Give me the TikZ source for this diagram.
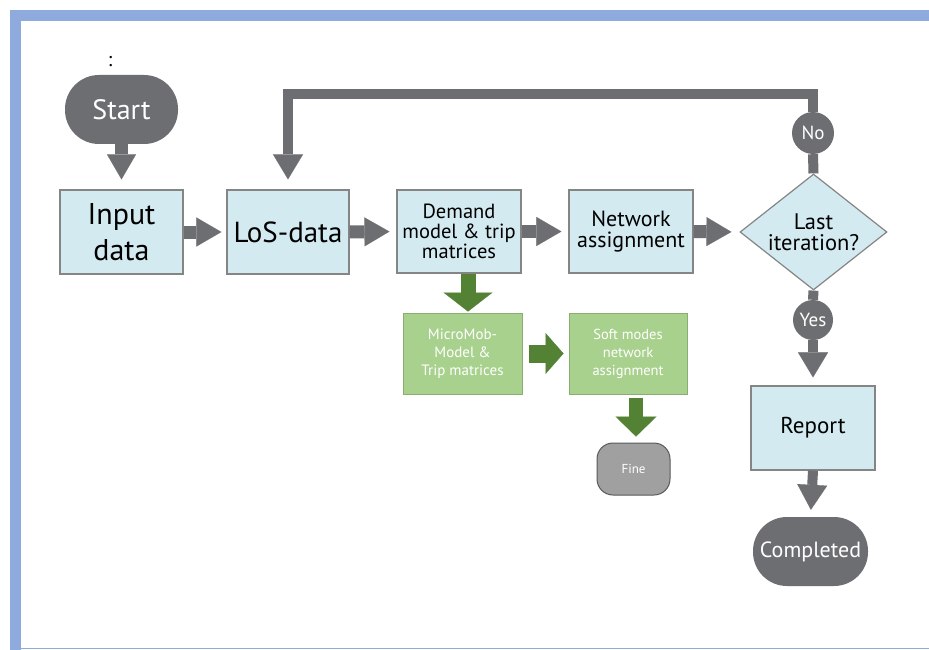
\documentclass[tikz,border=0pt]{standalone}
\usepackage{fontspec}
\setmainfont{PT Sans}
\usetikzlibrary{arrows.meta,shapes.geometric}
\definecolor{bluebar}{HTML}{8FAADC}
\definecolor{boxblue}{HTML}{D2EAF0}
\definecolor{boxborder}{HTML}{858585}
\definecolor{arrowgray}{HTML}{6D6E71}
\definecolor{greenfill}{HTML}{A9D18E}
\definecolor{greenborder}{HTML}{8AAE72}
\definecolor{greenarrow}{HTML}{548235}
\definecolor{finegray}{HTML}{A0A0A0}
\newcommand{\fss}[2]{\fontsize{#1}{#2}\selectfont}
\begin{document}
\begin{tikzpicture}[x=1pt,y=-1pt,
  bluebox/.style={draw=boxborder, line width=1.2pt, fill=boxblue, inner sep=0pt, align=center, text=black},
  greenbox/.style={draw=greenborder, line width=1pt, fill=greenfill, inner sep=0pt, align=center, text=white},
  terminal/.style={fill=arrowgray, text=white, inner sep=0pt, align=center},
  badge/.style={circle, fill=arrowgray, text=white, inner sep=0pt},
  grayarrow/.style={draw=arrowgray, line width=13pt, -{Triangle[length=25pt,width=29pt,line width=0.1pt]}},
  thinarrow/.style={draw=arrowgray, line width=10pt, -{Triangle[length=25pt,width=30pt,line width=0.1pt]}},
  greenarr/.style={draw=greenarrow, line width=15pt},
]
\useasboundingbox (0,0) rectangle (929,650);
\fill[white] (0,0) rectangle (929,650);
\fill[bluebar] (10,10) rectangle (929,21);
\fill[bluebar] (10,10) rectangle (21,650);
\draw[bluebar, line width=1.5pt] (21,648.5) -- (929,648.5);

% nodes
\node[font=\fss{20}{20}] (colon) at (110,62) {:};
\node[terminal, rounded corners=34pt, minimum width=113pt, minimum height=69pt, font=\fss{28}{28}] (start) at (121.5,109.5) {Start};
\node[bluebox, minimum width=123pt, minimum height=84pt, font=\fss{30}{36}] (input) at (121.5,232) {Input\\data};
\node[bluebox, minimum width=122pt, minimum height=84pt, font=\fss{29}{29}] (los) at (288,232) {LoS-data};
\node[bluebox, minimum width=124pt, minimum height=83pt, font=\fss{20.5}{20}] (demand) at (459,231.5) {Demand\\model \& trip\\matrices};
\node[bluebox, minimum width=124pt, minimum height=83pt, font=\fss{22}{21}] (network) at (631,231.5) {Network\\assignment};
\node[diamond, draw=boxborder, line width=1.2pt, fill=boxblue, inner sep=0pt, aspect=1.27, minimum width=147pt, minimum height=116pt, align=center, font=\fss{22.5}{21}] (last) at (813.5,232) {Last\\iteration?};
\node[badge, minimum size=42pt, font=\fss{19}{19}] (no) at (813,133) {No};
\node[badge, minimum size=40pt, font=\fss{19}{19}] (yes) at (813,320) {Yes};
\node[bluebox, minimum width=124pt, minimum height=84pt, font=\fss{23}{23}] (report) at (813,428) {Report};
\node[terminal, rounded corners=34pt, minimum width=115pt, minimum height=69pt, font=\fss{22}{22}] (completed) at (810.5,551.5) {Completed};
\node[greenbox, minimum width=119pt, minimum height=81pt, font=\fss{15}{18}] (micro) at (462.5,353.5) {MicroMob-\\Model \&\\Trip matrices};
\node[greenbox, minimum width=118pt, minimum height=81pt, font=\fss{14.5}{18}] (soft) at (628,353.5) {Soft modes\\network\\assignment};
\node[draw=black!65, line width=1pt, fill=finegray, text=white, rounded corners=16pt, minimum width=73pt, minimum height=52pt, inner sep=0pt, font=\fss{13}{13}] (fine) at (633.5,469) {Fine};

% gray connectors
\draw[grayarrow, shorten >=10pt] (start.south) -- (input.north);
\draw[grayarrow, shorten >=5pt] (input.east) -- (los.west);
\draw[grayarrow, shorten >=7pt] (los.east) -- (demand.west);
\draw[grayarrow, shorten >=7pt] (demand.east) -- (network.west);
\draw[grayarrow, shorten >=8pt] (network.east) -- (last.west);
\draw[draw=arrowgray, line width=10pt] (last.north) -- (no.south);
\draw[draw=arrowgray, line width=10pt] (last.south) -- (yes.north);
\draw[thinarrow, line join=miter, shorten >=10pt] (no.north) -- ++(0,-18) -| (los.north);
\draw[thinarrow, shorten >=8pt] (yes.south) -- (report.north);
\draw[thinarrow, shorten >=7pt] (report.south) -- (completed.north);

% green connectors
\draw[greenarr, -{Triangle[length=19pt,width=49pt,line width=0.1pt]}, shorten >=1pt] ([xshift=9pt]demand.south) -- ([xshift=5.5pt]micro.north);
\draw[greenarr, line width=18pt, -{Triangle[length=18pt,width=41pt,line width=0.1pt]}, shorten <=6pt, shorten >=5pt] (micro.east) -- (soft.west);
\draw[greenarr, line width=14pt, -{Triangle[length=20pt,width=41pt,line width=0.1pt]}, shorten <=3pt, shorten >=6pt] ([xshift=8pt]soft.south) -- ([xshift=2.5pt]fine.north);
\end{tikzpicture}
\end{document}
